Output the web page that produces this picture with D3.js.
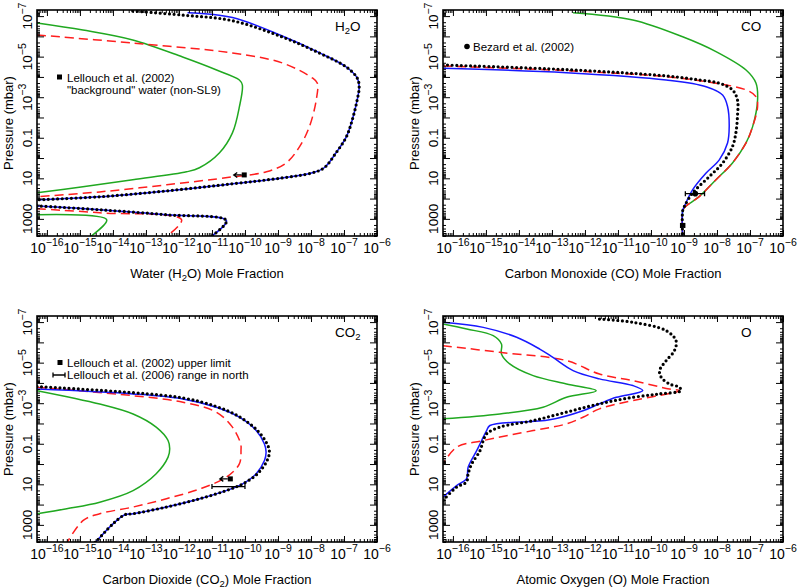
<!DOCTYPE html>
<html><head><meta charset="utf-8">
<script src="https://cdn.jsdelivr.net/npm/d3@7"></script>
<style>body{margin:0;background:#fff} text{font-family:"Liberation Sans",Arial,sans-serif;fill:#000}</style>
</head><body><svg id="c" width="800" height="588"></svg>
<script>
// ---- axis ranges and tick labels ----
const xDomain = [5e-17, 1e-6];          // mole fraction
const yDomain = [5e-8, 7e3];            // pressure (mbar)
const xLabelExps = [-16,-15,-14,-13,-12,-11,-10,-9,-8,-7,-6];
const yLabels = [[1e-7,"10","−7"],[1e-5,"10","−5"],[1e-3,"10","−3"],[0.1,"0.1",""],[10,"10",""],[1000,"1000",""]];

// ---- profiles: [log10(mole fraction), log10(pressure / mbar)] ----
// H2O
const h2oGreen = [[-16.3,-6.66],[-14.91,-6.31],[-13.40,-5.82],[-11.89,-4.98],[-10.86,-4.34],[-10.17,-3.85],[-10.08,-3.61],[-10.17,-2.52],[-10.38,-1.24],[-10.77,-0.26],[-11.38,0.48],[-11.77,0.68],[-13.40,1.07],[-14.91,1.42],[-16.3,1.71]];
const h2oGreenLow = [[-16.3,2.80],[-14.19,3.04],[-14.7,3.9]];
const h2oRed = [[-16.3,-6.07],[-13.40,-5.67],[-10.38,-5.18],[-8.87,-4.69],[-7.96,-3.95],[-7.81,-3.70],[-7.84,-2.87],[-8.05,-1.54],[-8.35,-0.55],[-8.75,0.24],[-9.35,0.68],[-10.38,0.93],[-12.37,1.32],[-14.4,1.67],[-16.3,1.91]];
const h2oRedLow = [[-16.3,2.50],[-14.4,2.70],[-11.92,3.04],[-12.4,3.9]];
const h2oBlue = [[-11.74,-7.17],[-10.38,-6.93],[-8.87,-6.02],[-7.75,-5.20],[-6.93,-4.49],[-6.60,-3.95],[-6.54,-3.51],[-6.60,-2.87],[-6.75,-1.88],[-6.93,-1.04],[-7.24,-0.26],[-7.60,0.48],[-7.96,0.73],[-8.87,0.98],[-10.38,1.27],[-12.37,1.62],[-14.40,1.91],[-16.3,2.06]];
const h2oBlueLow = [[-16.3,2.36],[-14.4,2.55],[-12.37,2.80],[-10.56,3.09],[-11.05,3.9]];
const h2oBlack = [[-13.4,-7.25],[-11.9,-7.05],[-10.4,-6.78],[-8.87,-5.97],[-7.75,-5.18],[-6.93,-4.49],[-6.60,-3.95],[-6.54,-3.51],[-6.60,-2.87],[-6.75,-1.88],[-6.93,-1.04],[-7.24,-0.26],[-7.60,0.48],[-7.96,0.73],[-8.87,0.98],[-10.38,1.27],[-12.37,1.62],[-14.40,1.91],[-16.3,2.06]];
const h2oBlackLow = [[-16.3,2.36],[-14.4,2.55],[-12.37,2.80],[-10.56,3.09],[-11.05,3.9]];
// CO
const coGreen = [[-12.36,-7.17],[-10.55,-6.81],[-9.04,-5.98],[-8.03,-5.25],[-7.12,-4.34],[-6.82,-3.70],[-6.77,-2.87],[-6.92,-1.55],[-7.12,-0.75],[-7.53,0.24],[-8.03,1.07],[-8.54,1.90],[-8.99,2.45],[-9.04,2.65],[-9.04,3.9]];
const coRed = [[-16.3,-4.54],[-12.56,-4.31],[-9.54,-4.01],[-8.03,-3.69],[-7.12,-3.36],[-6.82,-3.03],[-6.77,-2.54],[-6.92,-1.55],[-7.12,-0.75],[-7.53,0.24],[-8.03,1.07],[-8.54,1.90],[-8.99,2.45],[-9.04,2.65],[-9.04,3.9]];
const coBlue = [[-16.3,-4.43],[-12.56,-4.21],[-9.54,-3.85],[-8.33,-3.52],[-7.83,-3.11],[-7.68,-2.54],[-7.63,-1.55],[-7.68,-0.74],[-7.93,0.09],[-8.33,0.74],[-8.74,1.57],[-8.99,2.39],[-9.04,2.6],[-9.04,3.9]];
const coBlack = [[-16.3,-4.59],[-12.56,-4.36],[-9.54,-4.05],[-8.54,-3.85],[-7.93,-3.69],[-7.53,-3.36],[-7.38,-2.87],[-7.38,-2.04],[-7.43,-1.22],[-7.53,-0.57],[-7.83,0.25],[-8.23,0.91],[-8.74,1.73],[-8.99,2.39],[-9.04,2.6],[-9.04,3.9]];
// CO2
const co2Green = [[-16.3,-3.62],[-14.4,-2.96],[-13.39,-2.47],[-12.69,-1.82],[-12.33,-1.16],[-12.28,-0.75],[-12.33,-0.34],[-12.69,0.48],[-13.39,1.31],[-14.4,1.88],[-15.4,2.20],[-16.3,2.45]];
const co2Red = [[-16.3,-3.78],[-13.39,-3.37],[-11.88,-3.05],[-10.87,-2.56],[-10.38,-1.82],[-10.13,-0.99],[-10.12,-0.70],[-10.17,-0.01],[-10.57,0.65],[-11.37,1.23],[-12.38,1.71],[-13.39,2.12],[-14.4,2.45],[-14.9,2.78],[-15.4,3.9]];
const co2Blue = [[-16.3,-3.70],[-13.39,-3.46],[-11.88,-3.21],[-10.87,-2.80],[-10.17,-2.31],[-9.66,-1.65],[-9.41,-0.99],[-9.36,-0.58],[-9.41,-0.17],[-9.66,0.48],[-10.07,0.98],[-10.57,1.31],[-11.37,1.71],[-12.38,2.12],[-13.39,2.45],[-13.64,2.50],[-14.0,2.95],[-14.55,3.9]];
const co2Black = [[-16.3,-3.82],[-13.39,-3.52],[-11.88,-3.26],[-10.87,-2.84],[-10.17,-2.33],[-9.62,-1.65],[-9.33,-0.99],[-9.26,-0.62],[-9.33,-0.17],[-9.62,0.48],[-10.07,0.98],[-10.57,1.31],[-11.37,1.71],[-12.38,2.12],[-13.39,2.45],[-13.64,2.50],[-14.0,2.95],[-14.55,3.9]];
// O
const oGreen = [[-16.3,-6.91],[-15.58,-6.66],[-14.78,-6.33],[-14.53,-5.92],[-14.53,-5.43],[-14.28,-4.94],[-13.57,-4.36],[-12.56,-3.95],[-11.66,-3.62],[-12.56,-3.29],[-13.27,-2.80],[-14.58,-2.47],[-16.3,-2.23]];
const oRed = [[-16.3,-5.84],[-14.58,-5.51],[-12.56,-5.10],[-11.56,-4.44],[-10.55,-4.11],[-9.44,-3.70],[-9.14,-3.62],[-10.55,-3.13],[-11.56,-2.72],[-12.06,-2.31],[-12.56,-1.98],[-13.57,-1.65],[-15.08,-1.16],[-15.89,-0.83],[-16.3,-0.01]];
const oBlue = [[-16.3,-6.99],[-15.08,-6.74],[-14.07,-6.25],[-13.37,-5.67],[-12.97,-5.26],[-12.36,-4.61],[-11.56,-4.20],[-10.55,-3.87],[-10.25,-3.62],[-11.05,-3.29],[-11.56,-2.97],[-12.06,-2.63],[-13.07,-2.18],[-14.88,-1.90],[-14.98,-1.65],[-15.13,-1.16],[-15.28,-0.66],[-15.54,0.16],[-15.59,0.73],[-15.89,1.06],[-16.3,1.63]];
const oBlack = [[-11.56,-7.15],[-10.55,-6.99],[-9.54,-6.58],[-9.24,-6.08],[-9.29,-5.59],[-9.54,-5.10],[-9.74,-4.61],[-9.69,-4.28],[-9.44,-3.95],[-9.14,-3.79],[-9.09,-3.62],[-9.74,-3.46],[-10.55,-3.29],[-11.56,-2.97],[-12.56,-2.56],[-13.57,-2.14],[-14.58,-1.82],[-14.98,-1.49],[-15.08,-1.16],[-15.18,-0.66],[-15.43,-0.01],[-15.54,0.48],[-15.59,0.89],[-15.89,1.14],[-16.3,1.80]];

// ---- observations: [mole fraction, pressure mbar, (err low, err high)] ----
const h2oUpperLimit = [9.5e-11, 6.8];
const coBezard = [[2.2e-9, 57, 1.1e-9, 4.2e-9],[9.1e-10, 2100, 7.9e-10, 1.05e-9]];
const co2UpperLimit = [3.6e-11, 5.4];
const co2Range = [1e-11, 1e-10, 13];

// ---- drawing ----
const svg = d3.select("#c");
const W = 340, H = 226;
const layout = [{x0:37,y0:10},{x0:443,y0:10},{x0:37,y0:316},{x0:443,y0:316}];
const x = d3.scaleLog().domain(xDomain).range([0, W]);
const y = d3.scaleLog().domain(yDomain).range([0, H]);
const line = d3.line().x(d => x(10 ** d[0])).y(d => y(10 ** d[1])).curve(d3.curveCatmullRom.alpha(0.5));
const styles = {
  green: {stroke:"#20a820", w:1.5, dash:null, cap:"butt"},
  red:   {stroke:"#ff1e1e", w:1.5, dash:"9,5", cap:"butt"},
  blue:  {stroke:"#1818ff", w:1.5, dash:null, cap:"butt"},
  black: {stroke:"#000",    w:3.2, dash:"0,4.6", cap:"round"}
};

const panels = [
  {title:[["Water (H"],["2",1],["O) Mole Fraction"]], name:[["H"],["2",1],["O"]],
   series:[["green",h2oGreen],["green",h2oGreenLow],["red",h2oRed],["red",h2oRedLow],["blue",h2oBlue],["blue",h2oBlueLow],["black",h2oBlack],["black",h2oBlackLow]]},
  {title:[["Carbon Monoxide (CO) Mole Fraction"]], name:[["CO"]],
   series:[["green",coGreen],["red",coRed],["blue",coBlue],["black",coBlack]]},
  {title:[["Carbon Dioxide (CO"],["2",1],[") Mole Fraction"]], name:[["CO"],["2",1]],
   series:[["green",co2Green],["red",co2Red],["blue",co2Blue],["black",co2Black]]},
  {title:[["Atomic Oxygen (O) Mole Fraction"]], name:[["O"]],
   series:[["green",oGreen],["red",oRed],["blue",oBlue],["black",oBlack]]}
];

const xMajor = xLabelExps.map(e => Math.pow(10, e));
const xMinor = [];
for (let e = -17; e <= -7; e++) for (let m = 2; m <= 9; m++) { const v = m * Math.pow(10, e); if (v >= xDomain[0] && v <= xDomain[1]) xMinor.push(v); }
const yMajor = d3.range(-7, 4).map(e => Math.pow(10, e));
const yMinor = [];
for (let e = -8; e <= 3; e++) for (let m = 2; m <= 9; m++) { const v = m * Math.pow(10, e); if (v >= yDomain[0] && v <= yDomain[1]) yMinor.push(v); }

function richText(sel, parts, big, small) {
  parts.forEach((p, i) => {
    const t = sel.append("tspan").text(p[0]);
    if (p[1] === 1) t.attr("font-size", small).attr("dy", 3);
    else if (i > 0 && parts[i-1][1] === 1) t.attr("dy", -3);
  });
}

function arrowLeft(g, px, py, len) {
  g.append("path").attr("d", `M${px},${py}H${px-len}M${px-len+3.5},${py-2.5}L${px-len},${py}L${px-len+3.5},${py+2.5}`)
    .attr("stroke","#000").attr("stroke-width",1.3).attr("fill","none");
}
function errBar(g, x1, x2, py) {
  g.append("path").attr("d", `M${x1},${py}H${x2}M${x1},${py-2.5}V${py+2.5}M${x2},${py-2.5}V${py+2.5}`)
    .attr("stroke","#000").attr("stroke-width",1.3).attr("fill","none");
}

panels.forEach((P, i) => {
  const {x0, y0} = layout[i];
  const g = svg.append("g").attr("transform", `translate(${x0},${y0})`);
  const cid = "clip" + i;
  g.append("clipPath").attr("id", cid).append("rect").attr("width", W).attr("height", H);
  const plot = g.append("g").attr("clip-path", `url(#${cid})`);
  P.series.forEach(([k, data]) => {
    const s = styles[k];
    plot.append("path").attr("d", line(data)).attr("fill","none")
      .attr("stroke", s.stroke).attr("stroke-width", s.w)
      .attr("stroke-dasharray", s.dash).attr("stroke-linecap", s.cap);
  });

  // ticks on all four sides, pointing inward
  const axes = [
    [d3.axisBottom, `translate(0,${H})`, x, xMinor, xMajor, 3, 6],
    [d3.axisTop, `translate(0,0)`, x, xMinor, xMajor, 3, 6],
    [d3.axisLeft, `translate(0,0)`, y, yMinor, yMajor, 3, 7],
    [d3.axisRight, `translate(${W},0)`, y, yMinor, yMajor, 3, 7]
  ];
  axes.forEach(([fn, tr, sc, mn, mj, smn, smj]) => {
    [[mn, smn],[mj, smj]].forEach(([vals, sz]) => {
      const a = g.append("g").attr("transform", tr)
        .call(fn(sc).tickValues(vals).tickSize(-sz).tickFormat(""));
      a.select(".domain").remove();
      a.selectAll("line").attr("stroke","#000").attr("stroke-width",1);
    });
  });
  g.append("rect").attr("width", W).attr("height", H).attr("fill","none").attr("stroke","#000").attr("stroke-width",1.6);

  // x tick labels
  xLabelExps.forEach(e => {
    const t = g.append("text").attr("x", x(Math.pow(10, e))).attr("y", H + 16.5)
      .attr("text-anchor","middle").attr("font-size", 14);
    t.append("tspan").text("10");
    t.append("tspan").text("−" + Math.abs(e)).attr("font-size", 10.5).attr("dy", -6.5);
  });
  // y tick labels (rotated)
  yLabels.forEach(([v, base, sup]) => {
    const t = g.append("text").attr("transform", `translate(-5,${y(v)}) rotate(-90)`)
      .attr("text-anchor","middle").attr("font-size", 13.5);
    t.append("tspan").text(base);
    if (sup) t.append("tspan").text(sup).attr("font-size", 10.5).attr("dy", -6.5);
  });
  // axis titles
  const xt = g.append("text").attr("x", W/2).attr("y", H + 42).attr("text-anchor","middle").attr("font-size", 13);
  richText(xt, P.title, 13, 9.5);
  g.append("text").attr("transform", `translate(-24,${H/2}) rotate(-90)`).attr("text-anchor","middle")
    .attr("font-size", 13).text("Pressure (mbar)");
  // species label
  const nt = g.append("text").attr("x", 298).attr("y", 21).attr("font-size", 13.5);
  richText(nt, P.name, 13.5, 9.5);

  // observations and legends
  if (i === 0) {
    const px = x(h2oUpperLimit[0]), py = y(h2oUpperLimit[1]);
    g.append("rect").attr("x", px-2.5).attr("y", py-2.5).attr("width",5).attr("height",5).attr("fill","#000");
    arrowLeft(g, px-2.5, py, 8);
    g.append("rect").attr("x", 20).attr("y", 64.5).attr("width",5).attr("height",5).attr("fill","#000");
    g.append("text").attr("x", 30).attr("y", 72).attr("font-size", 11.5).text("Lellouch et al. (2002)");
    g.append("text").attr("x", 30).attr("y", 84).attr("font-size", 11.5).text("\"background\" water (non-SL9)");
  }
  if (i === 1) {
    coBezard.forEach(([v, p, lo, hi], k) => {
      const py = y(p);
      errBar(g, x(lo), x(hi), py);
      if (k === 0) g.append("circle").attr("cx", x(v)).attr("cy", py).attr("r", 2.8).attr("fill","#000");
      else g.append("rect").attr("x", x(v)-2.5).attr("y", py-2.5).attr("width",5).attr("height",5).attr("fill","#000");
    });
    g.append("circle").attr("cx", 24).attr("cy", 36.5).attr("r", 2.8).attr("fill","#000");
    g.append("text").attr("x", 30).attr("y", 40.5).attr("font-size", 11.5).text("Bezard et al. (2002)");
  }
  if (i === 2) {
    const px = x(co2UpperLimit[0]), py = y(co2UpperLimit[1]);
    g.append("rect").attr("x", px-2.5).attr("y", py-2.5).attr("width",5).attr("height",5).attr("fill","#000");
    arrowLeft(g, px-2.5, py, 8);
    errBar(g, x(co2Range[0]), x(co2Range[1]), y(co2Range[2]));
    g.append("rect").attr("x", 20.5).attr("y", 44).attr("width",5).attr("height",5).attr("fill","#000");
    g.append("text").attr("x", 30).attr("y", 51).attr("font-size", 11.5).text("Lellouch et al. (2002) upper limit");
    errBar(g, 16, 28, 59);
    g.append("text").attr("x", 30).attr("y", 63).attr("font-size", 11.5).text("Lellouch et al. (2006) range in north");
  }
});
</script></body></html>
